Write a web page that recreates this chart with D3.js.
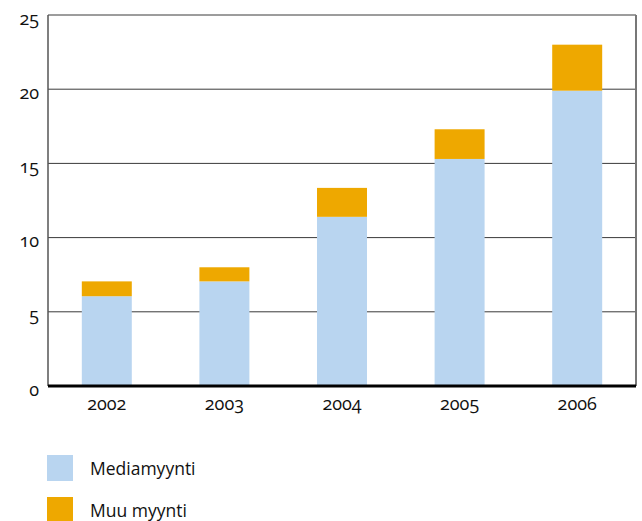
<!DOCTYPE html>
<html>
<head>
<meta charset="utf-8">
<script src="https://cdn.jsdelivr.net/npm/d3@7"></script>
<style>
  body { margin: 0; background: #fff; }
  svg text { font-family: "Open Sans", "DejaVu Sans", sans-serif; fill: #111; font-variant-numeric: oldstyle-nums; font-feature-settings: "onum"; }
</style>
</head>
<body>
<div id="chart"></div>
<script>
// Data
const years = ["2002", "2003", "2004", "2005", "2006"];
const mediaSales = [6.05, 7.05, 11.4, 15.3, 19.9];
const otherSales = [1.0, 0.95, 1.95, 2.0, 3.1];
const seriesNames = ["Mediamyynti", "Muu myynti"];
const seriesColors = ["#b9d5f0", "#eea800"];
const yTicks = [0, 5, 10, 15, 20, 25];

const width = 642, height = 521;
const margin = { top: 15, right: 6, bottom: 135, left: 48 };
const innerWidth = width - margin.left - margin.right;
const innerHeight = height - margin.top - margin.bottom;

const svg = d3.select("#chart").append("svg")
    .attr("width", width)
    .attr("height", height);

const inner = svg.append("g")
    .attr("transform", `translate(${margin.left},${margin.top})`);

const xScale = d3.scaleBand()
    .domain(years)
    .range([0, innerWidth])
    .paddingInner(0.575)
    .paddingOuter(0.2875);

const yScale = d3.scaleLinear()
    .domain([0, 25])
    .range([innerHeight, 0]);

// Stack the two series
const rows = years.map((y, i) => ({ year: y, media: mediaSales[i], other: otherSales[i] }));
const stacked = d3.stack().keys(["media", "other"])(rows);

// Gridlines
inner.append("g")
    .selectAll("line")
    .data(yTicks.filter(t => t > 0))
    .join("line")
    .attr("x1", 0)
    .attr("x2", innerWidth)
    .attr("y1", d => yScale(d))
    .attr("y2", d => yScale(d))
    .attr("stroke", "#3a3a3a")
    .attr("stroke-width", 1);

// Bars
inner.append("g")
    .selectAll("g")
    .data(stacked)
    .join("g")
    .attr("fill", (d, i) => seriesColors[i])
    .selectAll("rect")
    .data(d => d)
    .join("rect")
    .attr("x", d => xScale(d.data.year))
    .attr("y", d => yScale(d[1]))
    .attr("width", xScale.bandwidth())
    .attr("height", d => yScale(d[0]) - yScale(d[1]));

// Frame: left and right sides
inner.append("line")
    .attr("x1", 0).attr("x2", 0)
    .attr("y1", 0).attr("y2", innerHeight)
    .attr("stroke", "#555").attr("stroke-width", 1.5);
inner.append("line")
    .attr("x1", innerWidth).attr("x2", innerWidth)
    .attr("y1", 0).attr("y2", innerHeight)
    .attr("stroke", "#777").attr("stroke-width", 2);

// Thick baseline
inner.append("line")
    .attr("x1", 0).attr("x2", innerWidth)
    .attr("y1", yScale(0)).attr("y2", yScale(0))
    .attr("stroke", "#000").attr("stroke-width", 3);

// Left axis labels
const leftAxis = d3.axisLeft(yScale).tickValues(yTicks).tickSize(0).tickPadding(10);
const gy = inner.append("g").call(leftAxis);
gy.select(".domain").remove();
gy.selectAll("text")
    .attr("font-size", 18)
    .attr("dy", "0.5em")
    .attr("x", -9);

// Bottom axis labels
const bottomAxis = d3.axisBottom(xScale).tickSize(0).tickPadding(9);
const gx = inner.append("g")
    .attr("transform", `translate(0,${innerHeight})`)
    .call(bottomAxis);
gx.select(".domain").remove();
gx.selectAll("text").attr("font-size", 18).attr("dy", "0.85em");

// Legend
const legend = svg.append("g").attr("transform", "translate(47,455)");
seriesNames.forEach((name, i) => {
    const g = legend.append("g").attr("transform", `translate(0,${i * 42})`);
    g.append("rect")
        .attr("width", 26)
        .attr("height", 26)
        .attr("fill", seriesColors[i]);
    g.append("text")
        .attr("x", 43)
        .attr("y", 20)
        .attr("font-size", 17.5)
        .text(name);
});
</script>
</body>
</html>
